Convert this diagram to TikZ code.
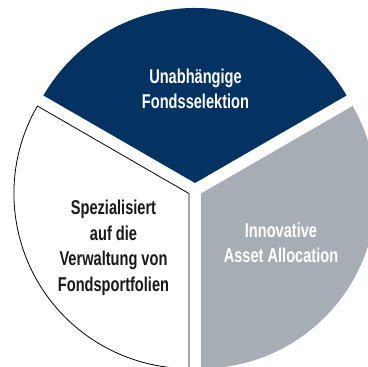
\documentclass[tikz,border=0pt]{standalone}
\usepackage{fontspec}
\setmainfont{Liberation Sans}[FakeStretch=0.73]
\usepackage{xcolor}
\usepackage{tikz}
\definecolor{fondsnavy}{HTML}{033263}
\definecolor{fondsgrey}{HTML}{A6ADB4}
\usetikzlibrary{positioning,calc}

\begin{document}
\begin{tikzpicture}[x=1pt, y=1pt,
    piece text/.style={align=center, font=\fontsize{20}{25.5}\selectfont\bfseries}]
    \useasboundingbox (0,0) rectangle (368,367);
    \coordinate (mid) at (195,177);
    % the three pieces, pushed a little apart
    \fill [fondsnavy] ($(mid)+(90:7)$) -- +(30:175) arc [start angle=30, end angle=150, radius=175] -- cycle;
    \fill [fondsgrey] ($(mid)+(-30:7)$) -- +(-90:175) arc [start angle=-90, end angle=30, radius=175] -- cycle;
    \draw [black, line width=0.8pt, fill=white] ($(mid)+(210:7)$) -- +(150:175) arc [start angle=150, end angle=270, radius=175] -- cycle;
    % labels
    \node [piece text, text=white] (selektion) at (195.5, 278) {Unabhängige\\Fondsselektion};
    \node [piece text, text=white] (allocation) at (281, 124) {Innovative\\Asset Allocation};
    \node [piece text, text=black!90] (verwaltung) at (113.5, 119) {Spezialisiert\\auf die\\Verwaltung von\\Fondsportfolien};
\end{tikzpicture}
\end{document}
